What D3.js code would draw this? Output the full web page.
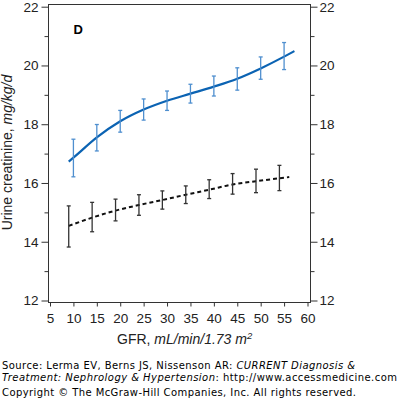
<!DOCTYPE html>
<html lang="en">
	<head>
		<meta charset="utf-8">
		<title>Urine creatinine vs GFR</title>
		<script type="text/javascript" src="https://cdn.jsdelivr.net/npm/d3@7"></script>
		<style type="text/css">
			body { margin: 0; background: #fff; }
			svg { display: block; }
			.axis text { font-family: "Liberation Sans", Arial, sans-serif; font-size: 13.5px; fill: #222; }
			.axis line { stroke: #333; }
			.lab { font-family: "Liberation Sans", Arial, sans-serif; font-size: 14px; fill: #222; }
			.src { font-family: "DejaVu Sans", Verdana, sans-serif; font-size: 10px; fill: #000; }
		</style>
	</head>
	<body>
		<script type="text/javascript">

			//Width and height
			var w = 399;
			var h = 402;

			// upper (blue) series: GFR, mean, half error bar
			var gfrBlue = [10, 15, 20, 25, 30, 35, 40, 45, 50, 55];
			var meanBlue = [16.85, 17.54, 18.1, 18.5, 18.8, 19.04, 19.3, 19.54, 19.91, 20.32];
			var errBlue = [0.64, 0.45, 0.37, 0.36, 0.33, 0.32, 0.34, 0.38, 0.38, 0.46];

			// lower (black) series
			var gfrBlack = [9, 14, 19, 24, 29, 34, 39, 44, 49, 54];
			var meanBlack = [14.52, 14.84, 15.08, 15.25, 15.42, 15.6, 15.79, 15.97, 16.07, 16.17];
			var errBlack = [0.70, 0.50, 0.37, 0.35, 0.31, 0.30, 0.32, 0.35, 0.40, 0.43];

			// fitted curves
			var fitBlueX = [9, 10, 15, 20, 25, 30, 35, 40, 45, 50, 55, 57.2];
			var fitBlueY = [16.73, 16.86, 17.55, 18.1, 18.5, 18.8, 19.04, 19.28, 19.55, 19.9, 20.3, 20.49];
			var fitBlackX = [9, 14, 19, 24, 29, 34, 39, 44, 49, 54, 56.1];
			var fitBlackY = [14.54, 14.82, 15.06, 15.25, 15.42, 15.6, 15.77, 15.95, 16.06, 16.16, 16.2];

			var xTicks = [5, 10, 15, 20, 25, 30, 35, 40, 45, 50, 55, 60];
			var yTicks = [12, 13, 14, 15, 16, 17, 18, 19, 20, 21, 22];

			var xScale = d3.scaleLinear().domain([5, 60]).range([50, 307.5]);
			var yScale = d3.scaleLinear().domain([12, 22]).range([300.5, 6.7]);

			var frame = { x0: 48.5, x1: 310.5, y0: 4.5, y1: 302.5 };

			//Create SVG element
			var svg = d3.select("body")
						.append("svg")
						.attr("width", w)
						.attr("height", h);

			svg.append("rect")
				.attr("width", w).attr("height", h).attr("fill", "#fff");

			// frame
			svg.append("rect")
				.attr("x", frame.x0)
				.attr("y", frame.y0)
				.attr("width", frame.x1 - frame.x0)
				.attr("height", frame.y1 - frame.y0)
				.attr("fill", "none")
				.attr("stroke", "#333")
				.attr("stroke-width", 1);

			var fmt = function(d) { return d % 2 === 0 ? d : ""; };

			var leftAxis = svg.append("g")
				.attr("class", "axis")
				.attr("transform", "translate(" + frame.x0 + ",0)")
				.call(d3.axisLeft(yScale).tickValues(yTicks).tickFormat(fmt).tickSize(7).tickPadding(3));

			var rightAxis = svg.append("g")
				.attr("class", "axis")
				.attr("transform", "translate(" + frame.x1 + ",0)")
				.call(d3.axisRight(yScale).tickValues(yTicks).tickFormat(fmt).tickSize(7).tickPadding(2));

			var bottomAxis = svg.append("g")
				.attr("class", "axis")
				.attr("transform", "translate(0," + frame.y1 + ")")
				.call(d3.axisBottom(xScale).tickValues(xTicks).tickSize(4).tickPadding(6.5));

			svg.selectAll(".axis .domain").remove();

			// shorter minor ticks
			leftAxis.selectAll(".tick line").attr("x2", function(d) { return d % 2 === 0 ? -7 : -4; });
			rightAxis.selectAll(".tick line").attr("x2", function(d) { return d % 2 === 0 ? 7 : 4; });

			// lines
			var line = d3.line()
				.x(function(d) { return xScale(d[0]); })
				.y(function(d) { return yScale(d[1]); })
				.curve(d3.curveMonotoneX);

			svg.append("path")
				.datum(d3.zip(fitBlackX, fitBlackY))
				.attr("d", line)
				.attr("fill", "none")
				.attr("stroke", "#111")
				.attr("stroke-width", 2)
				.attr("stroke-dasharray", "4,3");

			svg.append("path")
				.datum(d3.zip(fitBlueX, fitBlueY))
				.attr("d", line)
				.attr("fill", "none")
				.attr("stroke", "#0b63b3")
				.attr("stroke-width", 2.2);

			// error bars
			var drawBars = function(xs, ms, es, color) {
				var data = d3.zip(xs, ms, es);
				var g = svg.append("g")
					.attr("stroke", color)
					.attr("stroke-width", 1.3);
				g.selectAll("line.v")
					.data(data)
					.enter()
					.append("line")
					.attr("x1", function(d) { return xScale(d[0]); })
					.attr("x2", function(d) { return xScale(d[0]); })
					.attr("y1", function(d) { return yScale(d[1] + d[2]); })
					.attr("y2", function(d) { return yScale(d[1] - d[2]); });
				[1, -1].forEach(function(s) {
					g.selectAll("line.c" + s)
						.data(data)
						.enter()
						.append("line")
						.attr("x1", function(d) { return xScale(d[0]) - 2; })
						.attr("x2", function(d) { return xScale(d[0]) + 2; })
						.attr("y1", function(d) { return yScale(d[1] + s * d[2]); })
						.attr("y2", function(d) { return yScale(d[1] + s * d[2]); });
				});
			};

			drawBars(gfrBlue, meanBlue, errBlue, "#4f8fcf");
			drawBars(gfrBlack, meanBlack, errBlack, "#333");

			// panel letter
			svg.append("text")
				.attr("x", 73.5)
				.attr("y", 33.5)
				.attr("font-family", "Liberation Sans, Arial, sans-serif")
				.attr("font-size", "13px")
				.attr("font-weight", "bold")
				.text("D");

			// axis titles
			var xl = svg.append("text")
				.attr("class", "lab")
				.attr("x", 117)
				.attr("y", 344);
			xl.append("tspan").text("GFR, ");
			xl.append("tspan").attr("font-style", "italic").text("mL/min/1.73 m");
			xl.append("tspan").attr("font-style", "italic").attr("font-size", "9.5px").attr("dy", -5).text("2");

			var yl = svg.append("text")
				.attr("class", "lab")
				.attr("transform", "translate(12,152.5) rotate(-90)")
				.attr("text-anchor", "middle")
				.attr("font-size", "14.5px");
			yl.append("tspan").text("Urine creatinine, ");
			yl.append("tspan").attr("font-style", "italic").text("mg/kg/d");

			// source lines
			var t1 = svg.append("text").attr("class", "src").attr("x", 2).attr("y", 369)
				.attr("textLength", 353).attr("lengthAdjust", "spacing");
			t1.append("tspan").text("Source: Lerma EV, Berns JS, Nissenson AR: ");
			t1.append("tspan").attr("font-style", "italic").text("CURRENT Diagnosis &");

			var t2 = svg.append("text").attr("class", "src").attr("x", 2).attr("y", 381)
				.attr("textLength", 395).attr("lengthAdjust", "spacing");
			t2.append("tspan").attr("font-style", "italic").text("Treatment: Nephrology & Hypertension");
			t2.append("tspan").text(": http://www.accessmedicine.com");

			svg.append("text").attr("class", "src").attr("x", 2).attr("y", 396)
				.attr("textLength", 354).attr("lengthAdjust", "spacing")
				.text("Copyright \u00a9 The McGraw-Hill Companies, Inc. All rights reserved.");

		</script>
	</body>
</html>
